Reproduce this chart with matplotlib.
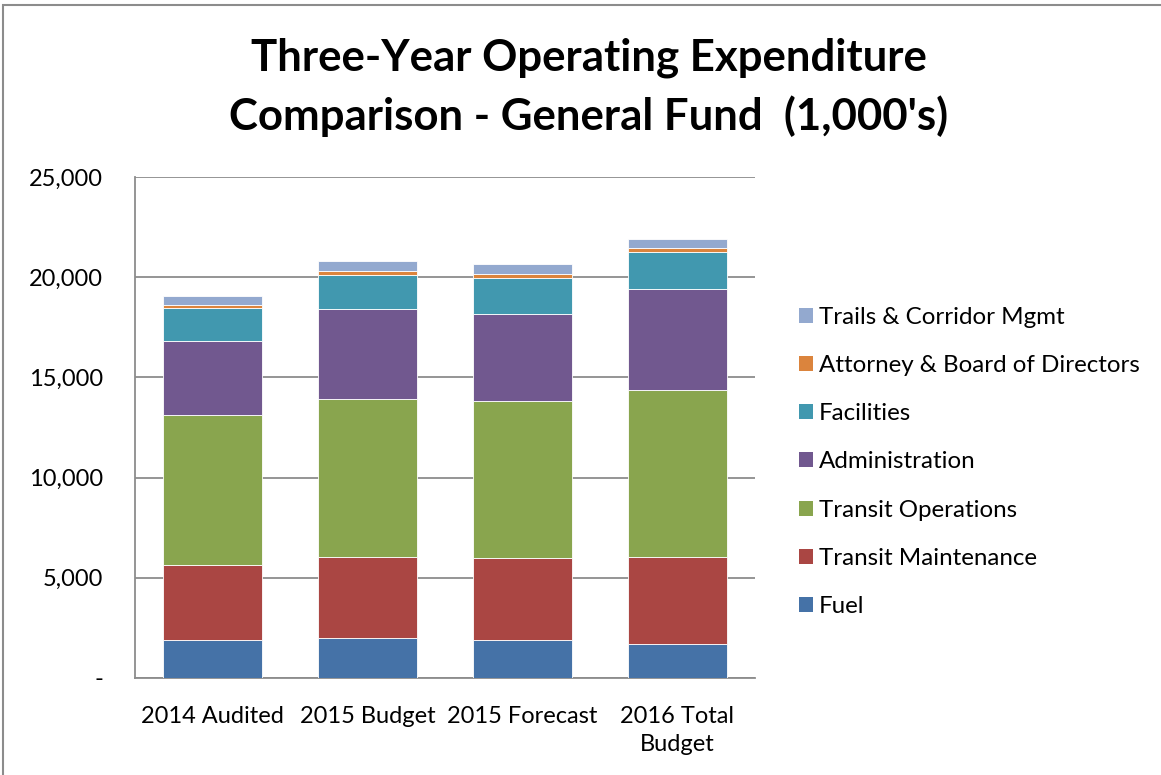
import numpy as np
import matplotlib
matplotlib.use("Agg")
import matplotlib.pyplot as plt
from matplotlib.patches import Rectangle, Patch
from matplotlib.ticker import FuncFormatter

plt.rcParams['font.family'] = ['Lato', 'DejaVu Sans']

categories = ["2014 Audited", "2015 Budget", "2015 Forecast", "2016 Total\nBudget"]
series_names = ["Fuel", "Transit Maintenance", "Transit Operations", "Administration",
                "Facilities", "Attorney & Board of Directors", "Trails & Corridor Mgmt"]
fuel = [1900, 2000, 1900, 1700]
maintenance = [3740, 4040, 4090, 4340]
operations = [7480, 7880, 7830, 8330]
administration = [3700, 4510, 4330, 5030]
facilities = [1660, 1690, 1820, 1870]
attorney = [120, 190, 190, 170]
trails = [460, 480, 510, 450]
colors = ["#4572A7", "#AA4643", "#89A54E", "#71588F", "#4198AF", "#DB843D", "#93A9CF"]

series = [fuel, maintenance, operations, administration, facilities, attorney, trails]

fig = plt.figure(figsize=(11.61, 7.75), dpi=100)
W, H = 1161, 775
ax = fig.add_axes([135 / W, 1 - 678 / H, 620 / W, 501 / H])

# outer chart frame
fig.patches.append(Rectangle((3 / W, -0.01), 1.2, 1 - 5 / H + 0.01, transform=fig.transFigure,
                             fill=False, edgecolor="#8c8c8c", linewidth=1.5))

x = np.arange(len(categories))
bottom = np.zeros(len(categories))
for vals, col, name in zip(series, colors, series_names):
    ax.bar(x, vals, width=0.645, bottom=bottom, color=col, edgecolor="white",
           linewidth=0.6, label=name, zorder=3)
    bottom += np.array(vals)

ax.set_xlim(-0.5, 3.5)
ax.set_ylim(0, 25000)
ax.set_yticks(np.arange(0, 25001, 5000))
ax.yaxis.set_major_formatter(FuncFormatter(lambda v, p: "-" if v == 0 else f"{int(v):,}"))
ax.grid(axis="y", color="#8c8c8c", linewidth=1.3, zorder=0)
ax.set_xticks(x)
ax.set_xticklabels(categories, fontsize=17, linespacing=1.45)
ax.tick_params(axis="y", labelsize=17, length=0, pad=23)
ax.tick_params(axis="x", length=0, pad=20)
for s in ["top", "right"]:
    ax.spines[s].set_visible(False)
for s in ["left", "bottom"]:
    ax.spines[s].set_color("#8c8c8c")
    ax.spines[s].set_linewidth(1.3)

fig.text(589 / W, 1 - 58 / H, "Three-Year Operating Expenditure", ha="center", va="center",
         fontsize=31.5, fontweight="bold")
fig.text(589 / W, 1 - 116 / H, "Comparison - General Fund  (1,000's)", ha="center", va="center",
         fontsize=31.5, fontweight="bold")

handles = [Patch(facecolor=c, edgecolor="none") for c in colors][::-1]
fig.legend(handles, series_names[::-1], loc="center left", bbox_to_anchor=(799 / W, 1 - 462 / H),
           frameon=False, fontsize=17.4, labelspacing=1.13, handlelength=0.58, handleheight=0.58,
           handletextpad=0.25, borderpad=0, borderaxespad=0)

fig.savefig("out.png", dpi=100)
